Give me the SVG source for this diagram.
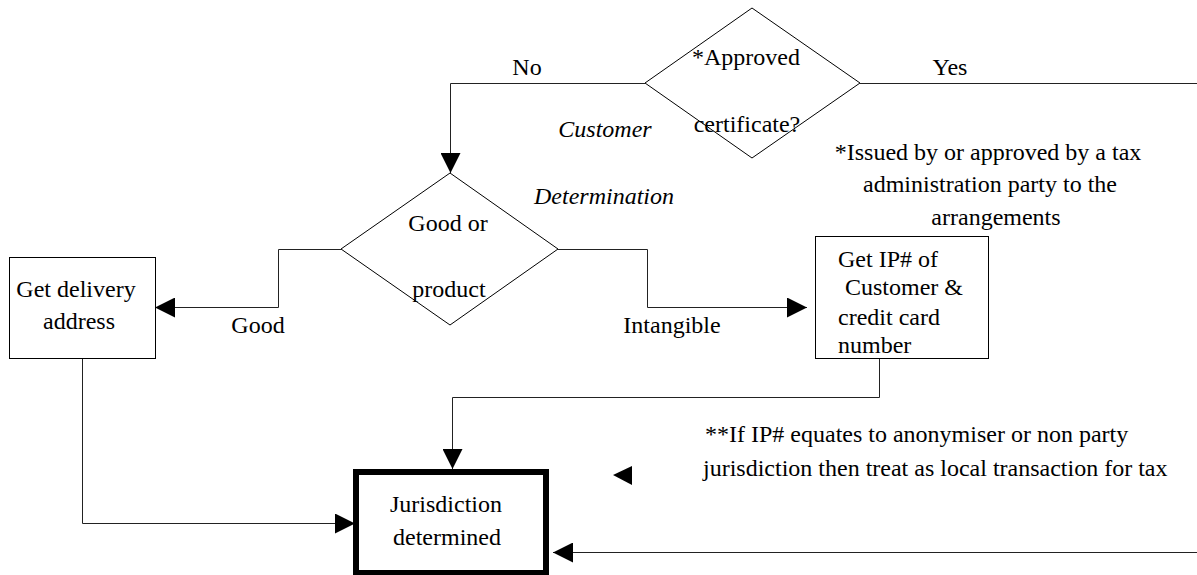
<svg xmlns="http://www.w3.org/2000/svg" width="1197" height="575" viewBox="0 0 1197 575">
<style>
text{font-family:"Liberation Serif","Times New Roman",serif;font-size:24px;fill:#000}
.c{text-anchor:middle}
.i{font-style:italic}
.shape{fill:#fff;stroke:#000;stroke-width:1}
.ln{fill:none;stroke:#222;stroke-width:1}
</style>
<defs>
<marker id="ah" markerWidth="20" markerHeight="20" refX="20" refY="10" orient="auto" markerUnits="userSpaceOnUse">
<path d="M0,0 L20,10 L0,20 Z" fill="#000"/>
</marker>
</defs>
<rect width="1197" height="575" fill="#fff"/>
<g id="connectors">
<path class="ln" d="M645,83.5 H450.5 V173" marker-end="url(#ah)"/>
<path class="ln" d="M860,83.5 H1197"/>
<path class="ln" d="M341,249.5 H278.5 V307.5 H155" marker-end="url(#ah)"/>
<path class="ln" d="M558,249.5 H647.5 V307.5 H807" marker-end="url(#ah)"/>
<path class="ln" d="M879.5,358 V397.5 H452.5 V469" marker-end="url(#ah)"/>
<path class="ln" d="M82.5,358 V523.5 H355" marker-end="url(#ah)"/>
<path class="ln" d="M1197,552.5 H553" marker-end="url(#ah)"/>
<path d="M613,475 L632,466 L632,485 Z" fill="#000"/>
</g>
<g id="approved">
<polygon class="shape" points="752,8 860,83 752,158 645,83"/>
<text class="c" x="746" y="65">*Approved</text>
<text class="c" x="747" y="132">certificate?</text>
</g>
<g id="good-or-product">
<polygon class="shape" points="450,173 558,249 450,325 341,249"/>
<text class="c" x="448" y="231">Good or</text>
<text class="c" x="449" y="297">product</text>
</g>
<g id="delivery">
<rect class="shape" x="9.5" y="257.5" width="146" height="101"/>
<text class="c" x="76" y="297">Get delivery</text>
<text class="c" x="79" y="329">address</text>
</g>
<g id="ip">
<rect class="shape" x="815.5" y="236.5" width="173" height="122"/>
<text x="838" y="267">Get IP# of</text>
<text x="845" y="295">Customer &amp;</text>
<text x="838" y="325">credit card</text>
<text x="838" y="353">number</text>
</g>
<g id="jurisdiction">
<rect x="356" y="472" width="190" height="101" fill="#fff" stroke="#000" stroke-width="6"/>
<text class="c" x="446" y="512">Jurisdiction</text>
<text class="c" x="447" y="545">determined</text>
</g>
<g id="labels">
<text class="c" x="527" y="75">No</text>
<text class="c" x="950" y="75">Yes</text>
<text class="c i" x="605" y="137">Customer</text>
<text class="c i" x="604" y="204">Determination</text>
<text class="c" x="258" y="333">Good</text>
<text class="c" x="672" y="333">Intangible</text>
<text class="c" x="988" y="160">*Issued by or approved by a tax</text>
<text class="c" x="990" y="192">administration party to the</text>
<text class="c" x="996" y="225">arrangements</text>
<text x="705" y="442">**If IP# equates to anonymiser or non party</text>
<text x="703" y="476">jurisdiction then treat as local transaction for tax</text>
</g>
</svg>
